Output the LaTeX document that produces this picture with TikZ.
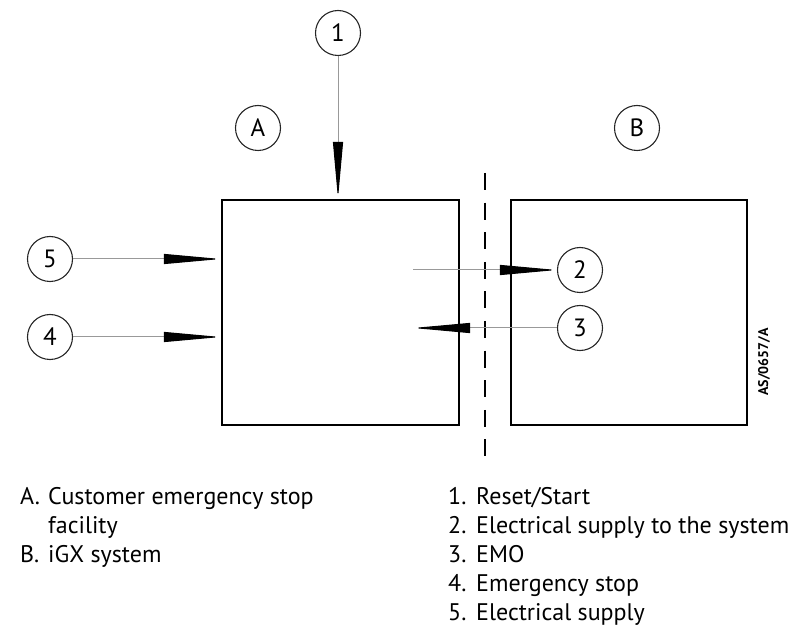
\documentclass[tikz,border=0pt]{standalone}
\usepackage{fontspec}
\setmainfont{PT Sans}
\usetikzlibrary{arrows.meta}

\begin{document}
\begin{tikzpicture}
			[x=1pt,y=-1pt,
			callout/.style={draw=black!85,circle,line width=1.1pt,minimum size=45pt,inner sep=0pt,font=\fontsize{25}{25}\selectfont},
			unit/.style={draw,line width=2.2pt,inner sep=0pt},
			feed/.style={draw=black!40,line width=1pt,-{Triangle[length=57pt,width=10pt,black]}},
			legend/.style={anchor=base west,inner sep=0pt,font=\fontsize{24}{29}\selectfont}]
			\useasboundingbox (0,0) rectangle (801,628);
			\node[callout] (n1) at (338,33) {1};
			\node[callout] (nA) at (258,128) {A};
			\node[callout] (nB) at (637,128) {B};
			\node[callout] (n5) at (50,259) {5};
			\node[callout] (n4) at (50,337) {4};
			\node[callout] (n2) at (580,270) {2};
			\node[callout] (n3) at (580,328) {3};
			\node[unit,minimum width=237pt,minimum height=225pt] (boxA) at (340.5,312.5) {};
			\node[unit,minimum width=236pt,minimum height=225pt] (boxB) at (629,312.5) {};
			\coordinate (tap) at (413,300);
			\coordinate (cutTop) at (485,173);
			\coordinate (cutBot) at (485,457);
			\draw[line width=2pt,dash pattern=on 17pt off 12.6pt] (cutTop) -- (cutBot);
			\draw[feed] (n1.south) -- (n1.south |- boxA.north);
			\draw[feed] (n5) -- (n5 -| boxA.west);
			\draw[feed] (n4) -- (n4 -| boxA.west);
			\draw[feed] (tap |- n2) -- (n2);
			\draw[feed] (n3) -- (tap |- n3);
			\node[rotate=90,font=\bfseries\fontsize{14}{14}\selectfont] (code) at (764,362) {AS/0657/A};
			\node[legend] (kA) at (20,504) {\makebox[28pt][l]{A.}Customer emergency stop};
			\node[legend] (kA2) at (48,533) {facility};
			\node[legend] (kB) at (20,562) {\makebox[28pt][l]{B.}iGX system};
			\node[legend] (k1) at (448,504) {\makebox[28pt][l]{1.}Reset/Start};
			\node[legend] (k2) at (448,533) {\makebox[28pt][l]{2.}Electrical supply to the system};
			\node[legend] (k3) at (448,562) {\makebox[28pt][l]{3.}EMO};
			\node[legend] (k4) at (448,591) {\makebox[28pt][l]{4.}Emergency stop};
			\node[legend] (k5) at (448,620) {\makebox[28pt][l]{5.}Electrical supply};
		\end{tikzpicture}
\end{document}
